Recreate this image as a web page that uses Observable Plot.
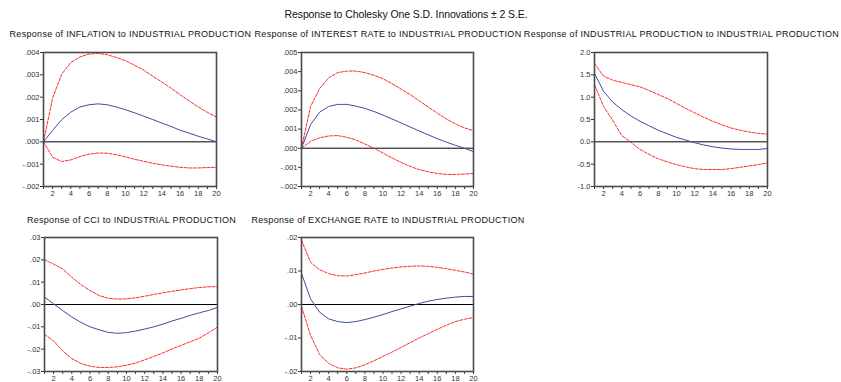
<!DOCTYPE html>
<html>
<head>
<meta charset="utf-8">
<script src="https://cdn.jsdelivr.net/npm/d3@7"></script>
<script src="https://cdn.jsdelivr.net/npm/@observablehq/plot@0.6"></script>
<style>
  html, body { margin: 0; padding: 0; background: #fff; }
  #wrap { position: relative; width: 841px; height: 382px; font-family: "Liberation Sans", Arial, sans-serif; overflow: hidden; }
  .ttl { position: absolute; white-space: nowrap; transform: translate(-50%, -50%); color: #111; line-height: 1; }
  .panel { position: absolute; }
</style>
</head>
<body>
<div id="wrap"></div>
<script>
const periods = d3.range(1, 21);

const mainTitle = "Response to Cholesky One S.D. Innovations \u00B1 2 S.E.";
const panelTitles = [
  "Response of INFLATION to INDUSTRIAL PRODUCTION",
  "Response of INTEREST RATE to INDUSTRIAL PRODUCTION",
  "Response of INDUSTRIAL PRODUCTION to INDUSTRIAL PRODUCTION",
  "Response of CCI to INDUSTRIAL PRODUCTION",
  "Response of EXCHANGE RATE to INDUSTRIAL PRODUCTION"
];

// INFLATION
const inflIR = [0, 0.00051, 0.00099, 0.00133, 0.00156, 0.00166, 0.0017, 0.00166, 0.00156, 0.00144, 0.0013, 0.00115, 0.001, 0.00084, 0.00069, 0.00052, 0.00039, 0.00025, 0.00013, 0.0];
const inflHi = [0, 0.00196, 0.00303, 0.00355, 0.0038, 0.00393, 0.00396, 0.0039, 0.00378, 0.00363, 0.00343, 0.00321, 0.00294, 0.00268, 0.0024, 0.00211, 0.00183, 0.00156, 0.00132, 0.00111];
const inflLo = [0, -0.00069, -0.00088, -0.00081, -0.00066, -0.00055, -0.0005, -0.00051, -0.00058, -0.00067, -0.00078, -0.00087, -0.00096, -0.00103, -0.00109, -0.00114, -0.00117, -0.00117, -0.00115, -0.00114];

// INTEREST RATE
const rateIR = [0, 0.00123, 0.00188, 0.00218, 0.00229, 0.00229, 0.0022, 0.00208, 0.00192, 0.00173, 0.00153, 0.00132, 0.00111, 0.0009, 0.0007, 0.0005, 0.00032, 0.00015, 0.0000, -0.00018];
const rateHi = [0, 0.00218, 0.00311, 0.00368, 0.00395, 0.00403, 0.00403, 0.00395, 0.00381, 0.00363, 0.00337, 0.00309, 0.0028, 0.00248, 0.00215, 0.00183, 0.00153, 0.00127, 0.00106, 0.00092];
const rateLo = [0, 0.00036, 0.00054, 0.00064, 0.00066, 0.00057, 0.00043, 0.00022, 0.0, -0.00025, -0.00051, -0.00074, -0.00095, -0.00112, -0.00123, -0.00132, -0.00137, -0.00137, -0.00135, -0.00132];

// INDUSTRIAL PRODUCTION
const ipIR = [1.53, 1.13, 0.89, 0.72, 0.58, 0.46, 0.36, 0.26, 0.18, 0.10, 0.04, -0.02, -0.07, -0.11, -0.14, -0.16, -0.17, -0.17, -0.17, -0.15];
const ipHi = [1.75, 1.47, 1.38, 1.33, 1.28, 1.23, 1.15, 1.06, 0.97, 0.86, 0.75, 0.65, 0.55, 0.46, 0.38, 0.31, 0.26, 0.22, 0.19, 0.17];
const ipLo = [1.28, 0.79, 0.48, 0.14, -0.01, -0.17, -0.28, -0.38, -0.45, -0.51, -0.56, -0.6, -0.62, -0.62, -0.62, -0.6, -0.57, -0.54, -0.51, -0.47];

// CCI
const cciIR = [0.0033, 0.0003, -0.0027, -0.0056, -0.008, -0.01, -0.0113, -0.0125, -0.0129, -0.0126, -0.0119, -0.011, -0.01, -0.0088, -0.0074, -0.0062, -0.0049, -0.0037, -0.0027, -0.0013];
const cciHi = [0.02, 0.0181, 0.0159, 0.0122, 0.0089, 0.0062, 0.004, 0.0028, 0.0024, 0.0025, 0.003, 0.0037, 0.0045, 0.0052, 0.0059, 0.0065, 0.0071, 0.0076, 0.0079, 0.008];
const cciLo = [-0.0134, -0.0163, -0.0208, -0.0242, -0.0264, -0.0276, -0.0282, -0.0282, -0.0279, -0.0272, -0.0262, -0.0248, -0.0233, -0.0217, -0.0199, -0.0183, -0.0167, -0.0151, -0.0127, -0.0101];

// EXCHANGE RATE
const fxIR = [0.0093, 0.0017, -0.0023, -0.0043, -0.0051, -0.0054, -0.0051, -0.0045, -0.0038, -0.003, -0.0021, -0.0013, -0.0005, 0.0003, 0.001, 0.0015, 0.0019, 0.0022, 0.0024, 0.0024];
const fxHi = [0.0192, 0.0126, 0.0104, 0.0092, 0.0086, 0.0085, 0.0089, 0.0094, 0.01, 0.0105, 0.0109, 0.0112, 0.0114, 0.0115, 0.0114, 0.0111, 0.0107, 0.0102, 0.0097, 0.0091];
const fxLo = [-0.0006, -0.0092, -0.0149, -0.0176, -0.0189, -0.0193, -0.0189, -0.018, -0.0168, -0.0155, -0.0142, -0.0128, -0.0114, -0.01, -0.0087, -0.0074, -0.0062, -0.0051, -0.0044, -0.0039];

// y axis tick values
const inflTicks = [-0.002, -0.001, 0, 0.001, 0.002, 0.003, 0.004];
const rateTicks = [-0.002, -0.001, 0, 0.001, 0.002, 0.003, 0.004, 0.005];
const ipTicks = [-1.0, -0.5, 0, 0.5, 1.0, 1.5, 2.0];
const cciTicks = [-0.03, -0.02, -0.01, 0, 0.01, 0.02, 0.03];
const fxTicks = [-0.02, -0.01, 0, 0.01, 0.02];

function fmtDec(digits) {
  return v => {
    let s = Math.abs(v).toFixed(digits).replace(/^0(?=\.)/, "");
    return (v < -1e-12 ? "-" : "") + s;
  };
}
function fmtOne(v) { return (v < -1e-12 ? "-" : "") + Math.abs(v).toFixed(1); }

const panels = [
  {ir: inflIR, hi: inflHi, lo: inflLo, ticks: inflTicks, fmt: fmtDec(3), fx: 43, fy: 52, fw: 173},
  {ir: rateIR, hi: rateHi, lo: rateLo, ticks: rateTicks, fmt: fmtDec(3), fx: 301, fy: 52, fw: 172},
  {ir: ipIR, hi: ipHi, lo: ipLo, ticks: ipTicks, fmt: fmtOne, fx: 594, fy: 52, fw: 173},
  {ir: cciIR, hi: cciHi, lo: cciLo, ticks: cciTicks, fmt: fmtDec(2), fx: 44, fy: 237, fw: 173},
  {ir: fxIR, hi: fxHi, lo: fxLo, ticks: fxTicks, fmt: fmtDec(2), fx: 301, fy: 237, fw: 172}
];

const wrap = document.getElementById("wrap");

const mt = document.createElement("div");
mt.className = "ttl";
mt.textContent = mainTitle;
mt.style.left = "406px";
mt.style.top = "14px";
mt.style.fontSize = "10.5px";
mt.style.letterSpacing = "-0.1px";
wrap.appendChild(mt);

const FH = 134, ML = 43, MR = 10, MT = 10, MB = 16;

panels.forEach((p, i) => {
  const rows = periods.map((t, k) => ({t, ir: p.ir[k], hi: p.hi[k], lo: p.lo[k]}));
  const chart = Plot.plot({
    width: ML + p.fw + MR,
    height: MT + FH + MB,
    marginLeft: ML, marginRight: MR, marginTop: MT, marginBottom: MB,
    style: {fontFamily: "Liberation Sans, Arial, sans-serif", fontSize: "7.5px", color: "#333", background: "transparent", overflow: "visible"},
    x: {domain: [1, 20]},
    y: {domain: [p.ticks[0], p.ticks[p.ticks.length - 1]]},
    marks: [
      Plot.ruleY([0], {stroke: "#000", strokeWidth: 1}),
      Plot.line(rows, {x: "t", y: "hi", stroke: "#ff2a2a", strokeWidth: 1, strokeDasharray: "3,1.5"}),
      Plot.line(rows, {x: "t", y: "lo", stroke: "#ff2a2a", strokeWidth: 1, strokeDasharray: "3,1.5"}),
      Plot.line(rows, {x: "t", y: "ir", stroke: "#3a4ea3", strokeWidth: 1}),
      Plot.axisX({ticks: periods, tickFormat: d => d % 2 === 0 ? String(d) : "", tickSize: 3, tickPadding: 1, label: null, stroke: "#333"}),
      Plot.axisY({ticks: p.ticks, tickFormat: p.fmt, tickSize: 3, tickPadding: 1, label: null, stroke: "#333"}),
      Plot.frame({stroke: "#4a4a4a", strokeWidth: 1.6})
    ]
  });
  chart.classList.add("panel");
  chart.style.left = (p.fx - ML) + "px";
  chart.style.top = (p.fy - MT) + "px";
  wrap.appendChild(chart);

  const t = document.createElement("div");
  t.className = "ttl";
  t.textContent = panelTitles[i];
  t.style.left = (p.fx + p.fw / 2 + 1) + "px";
  t.style.top = (i < 3 ? 34 : 220) + "px";
  t.style.fontSize = "9px";
  t.style.letterSpacing = "0.3px";
  wrap.appendChild(t);
});
</script>
</body>
</html>
